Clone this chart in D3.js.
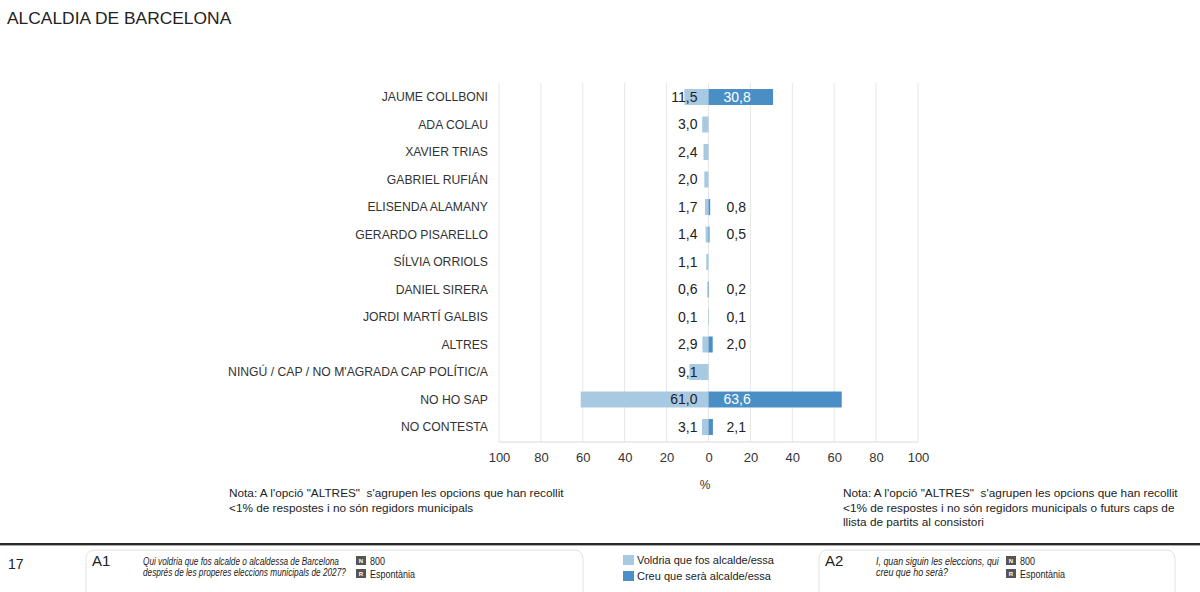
<!DOCTYPE html>
<html>
<head>
<meta charset="utf-8">
<script src="https://cdn.jsdelivr.net/npm/d3@7"></script>
<style>
  html, body { margin: 0; padding: 0; background: #fff; }
  svg { display: block; font-family: "Liberation Sans", Arial, sans-serif; }
  .note { white-space: pre; }
</style>
</head>
<body>
<svg id="chart" width="1200" height="592"></svg>
<script>
const categories = [
  "JAUME COLLBONI", "ADA COLAU", "XAVIER TRIAS", "GABRIEL RUFIÁN",
  "ELISENDA ALAMANY", "GERARDO PISARELLO", "SÍLVIA ORRIOLS", "DANIEL SIRERA",
  "JORDI MARTÍ GALBIS", "ALTRES", "NINGÚ / CAP / NO M'AGRADA CAP POLÍTIC/A",
  "NO HO SAP", "NO CONTESTA"
];
const voldria = [11.5, 3.0, 2.4, 2.0, 1.7, 1.4, 1.1, 0.6, 0.1, 2.9, 9.1, 61.0, 3.1];
const creu    = [30.8, null, null, null, 0.8, 0.5, null, 0.2, 0.1, 2.0, null, 63.6, 2.1];
const tickValues = [-100, -80, -60, -40, -20, 0, 20, 40, 60, 80, 100];
const seriesNames = ["Voldria que fos alcalde/essa", "Creu que serà alcalde/essa"];

const LIGHT = "#a7cae2", DARK = "#4a8ec6";
const svg = d3.select("#chart");
const locale = d3.formatLocale({decimal: ",", thousands: ".", grouping: [3], currency: ["", "€"]});
const fmt = locale.format(".1f");

// Title
svg.append("text").attr("x", 7).attr("y", 24).attr("font-size", 17.4).attr("fill", "#222")
  .text("ALCALDIA DE BARCELONA");

const x = d3.scaleLinear().domain([-100, 100]).range([499, 918]);
const y = d3.scaleBand().domain(categories).range([83.25, 440.75]).paddingInner(0.42).paddingOuter(0.21);

// Gridlines
svg.append("g").selectAll("line").data(tickValues).join("line")
  .attr("x1", d => x(d)).attr("x2", d => x(d))
  .attr("y1", 83).attr("y2", 442)
  .attr("stroke", "#e6e6e6").attr("stroke-width", 1);
svg.append("line").attr("x1", x(-100)).attr("x2", x(100)).attr("y1", 442).attr("y2", 442)
  .attr("stroke", "#d9d9d9");

// Axis
const axis = svg.append("g").attr("transform", "translate(0,442)")
  .call(d3.axisBottom(x).tickValues(tickValues).tickFormat(d => Math.abs(d)).tickSize(0).tickPadding(11));
axis.select(".domain").remove();
axis.selectAll("text").attr("font-size", 13).attr("fill", "#333").attr("font-family", "Liberation Sans, Arial, sans-serif");
svg.append("text").attr("x", 705).attr("y", 489).attr("text-anchor", "middle").attr("font-size", 12).attr("fill", "#333").text("%");

// Category labels
svg.append("g").selectAll("text").data(categories).join("text")
  .attr("x", 488).attr("y", d => y(d) + y.bandwidth() / 2).attr("dy", "0.35em")
  .attr("text-anchor", "end").attr("font-size", 12.2).attr("fill", "#333")
  .text(d => d);

const rows = categories.map((c, i) => ({c, v: voldria[i], k: creu[i]}));

// Light bars (left)
svg.append("g").selectAll("rect").data(rows.filter(d => d.v != null)).join("rect")
  .attr("x", d => x(-d.v)).attr("width", d => x(0) - x(-d.v))
  .attr("y", d => y(d.c)).attr("height", y.bandwidth()).attr("fill", LIGHT);
// Dark bars (right)
svg.append("g").selectAll("rect").data(rows.filter(d => d.k != null)).join("rect")
  .attr("x", x(0)).attr("width", d => x(d.k) - x(0))
  .attr("y", d => y(d.c)).attr("height", y.bandwidth()).attr("fill", DARK);

// Value labels
svg.append("g").selectAll("text").data(rows.filter(d => d.v != null)).join("text")
  .attr("x", x(0) - 11).attr("y", d => y(d.c) + y.bandwidth() / 2).attr("dy", "0.35em")
  .attr("text-anchor", "end").attr("font-size", 14).attr("fill", "#222")
  .text(d => fmt(d.v));
svg.append("g").selectAll("text").data(rows.filter(d => d.k != null)).join("text")
  .attr("x", d => x(0) + (d.k > 15 ? 15 : 18)).attr("y", d => y(d.c) + y.bandwidth() / 2).attr("dy", "0.35em")
  .attr("text-anchor", "start").attr("font-size", 14)
  .attr("fill", d => d.k > 15 ? "#fff" : "#222")
  .text(d => fmt(d.k));

// Notes
const note = (xx, yy, lines) => {
  const t = svg.append("text").attr("class", "note").attr("x", xx).attr("y", yy)
    .attr("font-size", 11.8).attr("fill", "#222");
  lines.forEach((l, i) => t.append("tspan").attr("x", xx).attr("dy", i === 0 ? 0 : 14.5).text(l));
};
note(229, 497, ["Nota: A l'opció \"ALTRES\"  s'agrupen les opcions que han recollit", "<1% de respostes i no són regidors municipals"]);
note(843, 497, ["Nota: A l'opció \"ALTRES\"  s'agrupen les opcions que han recollit", "<1% de respostes i no són regidors municipals o futurs caps de", "llista de partits al consistori"]);

// Separator
svg.append("line").attr("x1", 0).attr("x2", 1200).attr("y1", 544).attr("y2", 544).attr("stroke", "#2a2a2a").attr("stroke-width", 2);
svg.append("line").attr("x1", 0).attr("x2", 1200).attr("y1", 545.5).attr("y2", 545.5).attr("stroke", "#aaa").attr("stroke-width", 1);

// Condensed text helper: scale horizontally so text occupies a given width
const narrowText = (tx, ty, str, width, size, italic) => {
  const t = svg.append("text").attr("x", 0).attr("y", 0)
    .attr("font-size", size).attr("fill", "#222").text(str);
  if (italic) t.attr("font-style", "italic");
  const natural = t.node().getComputedTextLength();
  const sx = Math.min(1, width / natural);
  t.attr("transform", `translate(${tx},${ty}) scale(${sx},1)`);
  return t;
};

// Footer
svg.append("text").attr("x", 8).attr("y", 569).attr("font-size", 14).attr("fill", "#222").text("17");
const box = (bx, bw, code, q, qw) => {
  svg.append("rect").attr("x", bx).attr("y", 550).attr("width", bw).attr("height", 70).attr("rx", 8)
    .attr("fill", "none").attr("stroke", "#e2e2e2");
  svg.append("text").attr("x", bx + 6).attr("y", 566).attr("font-size", 15).attr("fill", "#222").text(code);
  q.forEach((l, i) => narrowText(bx + 57, 565 + i * 11, l, qw[i], 10, true));
};
box(86, 497, "A1", ["Qui voldria que fos alcalde o alcaldessa de Barcelona", "després de les properes eleccions municipals de 2027?"], [196, 203]);
box(819, 356, "A2", ["I, quan siguin les eleccions, qui", "creu que ho serà?"], [123, 72]);

const badges = (bx) => {
  [["N", "800", 556], ["R", "Espontània", 569]].forEach(([b, t, by]) => {
    svg.append("rect").attr("x", bx).attr("y", by).attr("width", 10).attr("height", 9).attr("fill", "#555");
    svg.append("text").attr("x", bx + 5).attr("y", by + 7).attr("text-anchor", "middle")
      .attr("font-size", 6).attr("font-weight", "bold").attr("fill", "#fff").text(b);
    narrowText(bx + 14, by + 8.5, t, t === "800" ? 15 : 45, 10, false);
  });
};
badges(356);
badges(1006);

// Legend
svg.append("g").selectAll("g").data(seriesNames).join("g").each(function(d, i) {
  const g = d3.select(this);
  g.append("rect").attr("x", 623).attr("y", 555 + i * 16).attr("width", 11).attr("height", 10)
    .attr("fill", i === 0 ? LIGHT : DARK);
  g.append("text").attr("x", 637).attr("y", 564 + i * 15.5).attr("font-size", 11).attr("fill", "#222").text(d);
});
</script>
</body>
</html>
